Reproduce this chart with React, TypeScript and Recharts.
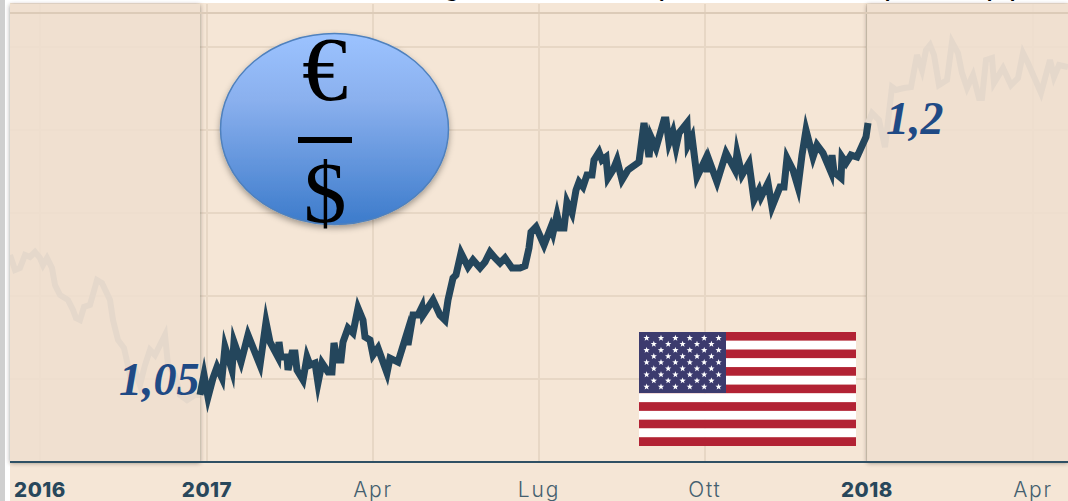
import React from "react";
import { LineChart, Line, XAxis, YAxis, CartesianGrid, ReferenceArea, ReferenceLine } from "recharts";

// Nominal trading-session index, 0 = start of 2017
const tickSessions = [-167, 0, 166, 332, 498, 660, 826];
const tickLabels = ["2016", "2017", "Apr", "Lug", "Ott", "2018", "Apr"];
const yearLabels = ["2016", "2017", "2018"];
const gridSessions = [-167, 0, 166, 332, 498, 660, 826];
const gridRates = [1.05, 1.1, 1.15, 1.2, 1.25];
const topRate = 1.2705;

const priorSessions = [-197, -192, -187, -182, -177, -172, -167, -164, -160, -155, -152, -147, -139, -134, -131, -127, -123, -117, -110, -105, -97, -94, -89, -83, -77, -72, -67, -62, -57, -52, -42, -39, -32, -27, -20, -12, -7];
const priorRates = [1.1247, 1.1157, 1.1169, 1.1247, 1.1235, 1.1265, 1.1229, 1.1187, 1.1229, 1.1169, 1.1066, 1.1006, 1.0976, 1.0916, 1.0867, 1.0855, 1.0934, 1.0946, 1.1096, 1.1078, 1.0976, 1.0855, 1.0735, 1.0687, 1.0524, 1.0554, 1.0464, 1.0584, 1.0675, 1.0644, 1.0765, 1.0584, 1.0524, 1.0404, 1.0373, 1.0404, 1.0404];

const mainSessions = [-7, -3, 1, 6, 10, 15, 18, 25, 27, 34, 41, 53, 59, 63, 71, 72, 74, 80, 81, 85, 88, 90, 96, 100, 103, 108, 111, 115, 121, 125, 127, 130, 134, 136, 141, 146, 151, 156, 158, 163, 166, 171, 180, 183, 191, 200, 201, 206, 211, 215, 216, 226, 233, 238, 241, 246, 249, 254, 261, 266, 273, 278, 283, 288, 293, 298, 305, 313, 318, 322, 324, 329, 337, 344, 346, 350, 353, 357, 360, 365, 369, 372, 376, 380, 385, 387, 392, 395, 399, 401, 406, 410, 415, 421, 432, 437, 442, 444, 449, 457, 459, 462, 466, 469, 472, 480, 481, 485, 490, 498, 500, 502, 510, 519, 528, 530, 535, 542, 547, 552, 554, 561, 565, 573, 577, 580, 586, 591, 595, 599, 606, 610, 616, 624, 625, 627, 634, 635, 639, 644, 650, 659, 661];
const mainRates = [1.0404, 1.0524, 1.0391, 1.0506, 1.0572, 1.0506, 1.0693, 1.0554, 1.0723, 1.0602, 1.0765, 1.0584, 1.0843, 1.0723, 1.0632, 1.0723, 1.0632, 1.0632, 1.0554, 1.0657, 1.0657, 1.0554, 1.0494, 1.0632, 1.0584, 1.0596, 1.0476, 1.0596, 1.0542, 1.0542, 1.0717, 1.0614, 1.0614, 1.0723, 1.0807, 1.0777, 1.0928, 1.0855, 1.0753, 1.0735, 1.0644, 1.0687, 1.0536, 1.0626, 1.0602, 1.0777, 1.0705, 1.0885, 1.0885, 1.0934, 1.0885, 1.0976, 1.0885, 1.0855, 1.0976, 1.1108, 1.1126, 1.1259, 1.1175, 1.1217, 1.1169, 1.1205, 1.1265, 1.1229, 1.1199, 1.1229, 1.1169, 1.1169, 1.1181, 1.1289, 1.1385, 1.1416, 1.1307, 1.1416, 1.1379, 1.1488, 1.1409, 1.1409, 1.1566, 1.15, 1.1638, 1.1687, 1.1657, 1.1729, 1.1729, 1.1819, 1.1867, 1.1819, 1.1837, 1.1711, 1.1759, 1.1819, 1.1699, 1.1759, 1.1807, 1.2042, 1.1837, 1.1958, 1.1891, 1.206, 1.206, 1.1922, 1.1988, 1.1897, 1.1982, 1.2042, 1.191, 1.1958, 1.1717, 1.1819, 1.1747, 1.1819, 1.1687, 1.1861, 1.1759, 1.1861, 1.1729, 1.1801, 1.1578, 1.1638, 1.1596, 1.1681, 1.1536, 1.1657, 1.1657, 1.1831, 1.1759, 1.1657, 1.1849, 1.2, 1.1837, 1.191, 1.1861, 1.1747, 1.1849, 1.1747, 1.1711, 1.1837, 1.1801, 1.1849, 1.1837, 1.1958, 1.2042];

const nextSessions = [661, 665, 672, 678, 685, 689, 697, 704, 710, 715, 719, 723, 727, 732, 740, 745, 751, 755, 760, 766, 772, 775, 779, 785, 787, 796, 804, 811, 816, 821, 834, 843, 847, 852, 861];
const nextRates = [1.2042, 1.2102, 1.206, 1.1897, 1.2259, 1.2241, 1.2253, 1.2259, 1.2452, 1.2361, 1.2482, 1.2512, 1.2452, 1.2271, 1.2301, 1.253, 1.2464, 1.2343, 1.2253, 1.2331, 1.2193, 1.2193, 1.2422, 1.2434, 1.2283, 1.2373, 1.2271, 1.2313, 1.2464, 1.2403, 1.2223, 1.2422, 1.2319, 1.2391, 1.2379];

const zip = (xs: number[], ys: number[]) => xs.map((x, i) => ({ x, y: ys[i] }));

const priorData = zip(priorSessions, priorRates);
const mainData = zip(mainSessions, mainRates);
const nextData = zip(nextSessions, nextRates);

const AxisTick = (props: any) => {
  const label = tickLabels[tickSessions.indexOf(props.payload.value)];
  const bold = yearLabels.includes(label);
  return (
    <text
      x={props.x}
      y={497}
      textAnchor="middle"
      fontFamily="Inter, sans-serif"
      fontSize={bold ? 20.5 : 21}
      fontWeight={bold ? 800 : 300}
      letterSpacing={bold ? 0.5 : 1.8}
      fill={bold ? "#28475b" : "#44606f"}
    >
      {label}
    </text>
  );
};

const Band = (props: any) => (
  <rect
    x={props.x}
    y={props.y}
    width={props.width}
    height={props.height}
    fill="#efdfcf"
    fillOpacity={0.88}
    filter="url(#bandShadow)"
  />
);

const Star = ({ cx, cy, r }: { cx: number; cy: number; r: number }) => {
  const pts: string[] = [];
  for (let i = 0; i < 10; i++) {
    const a = -Math.PI / 2 + (i * Math.PI) / 5;
    const rr = i % 2 === 0 ? r : r * 0.42;
    pts.push(`${cx + rr * Math.cos(a)},${cy + rr * Math.sin(a)}`);
  }
  return <polygon points={pts.join(" ")} fill="#ffffff" />;
};

const Flag = () => {
  const stripe = 114 / 13;
  const stripes = [];
  for (let i = 0; i < 13; i++) {
    stripes.push(
      <rect key={i} x={639} y={332 + i * stripe} width={217} height={stripe} fill={i % 2 === 0 ? "#b22234" : "#ffffff"} />
    );
  }
  const stars = [];
  for (let row = 0; row < 9; row++) {
    const odd = row % 2 === 1;
    for (let col = 0; col < (odd ? 5 : 6); col++) {
      stars.push(
        <Star key={`${row}-${col}`} cx={646.6 + (odd ? 7.2 : 0) + col * 14.4} cy={338 + row * 6.1} r={3.3} />
      );
    }
  }
  return (
    <g>
      {stripes}
      <rect x={639} y={332} width={87} height={61} fill="#3c3b6e" />
      {stars}
    </g>
  );
};

const overlayTitle: [string, number][] = [["g", 443], ["(", 653], ["p", 884], ["p", 986], ["p", 1009]];

export default function App() {
  return (
    <div style={{ position: "absolute", left: 0, top: 0, width: 1068, height: 501, background: "#ffffff", overflow: "hidden" }}>
      <div style={{ position: "absolute", left: 0, top: 0, width: 5, height: 501, background: "#cfcfcf" }} />
      <div style={{ position: "absolute", left: 10, top: 3, width: 1058, height: 498, background: "#f5e6d6" }} />
      <div style={{ position: "absolute", left: 0, top: 0 }}>
        <LineChart width={1068} height={501} margin={{ top: 4, right: 0, bottom: 0, left: 10 }}>
          <defs>
            <filter id="bandShadow" x="-5%" y="-5%" width="110%" height="110%">
              <feColorMatrix in="SourceAlpha" type="matrix" values="0 0 0 0 0 0 0 0 0 0 0 0 0 0 0 0 0 0 100 0" result="solid" />
              <feGaussianBlur in="solid" stdDeviation={2.2} result="blur" />
              <feOffset in="blur" dy={1} result="offset" />
              <feFlood floodColor="#3a3026" floodOpacity={0.5} />
              <feComposite in2="offset" operator="in" result="shadow" />
              <feComposite in="shadow" in2="solid" operator="out" result="outer" />
              <feMerge>
                <feMergeNode in="outer" />
                <feMergeNode in="SourceGraphic" />
              </feMerge>
            </filter>
          </defs>
          <CartesianGrid
            horizontalValues={gridRates}
            verticalValues={gridSessions}
            stroke="#e7d7c5"
            strokeWidth={2}
          />
          <XAxis
            type="number"
            dataKey="x"
            domain={[-197, 861]}
            ticks={tickSessions}
            tick={<AxisTick />}
            tickLine={false}
            axisLine={{ stroke: "#2f5064", strokeWidth: 2 }}
            height={39}
            interval={0}
            allowDataOverflow
          />
          <YAxis hide type="number" domain={[1.0, 1.2759]} ticks={gridRates} allowDataOverflow />
          <ReferenceLine y={topRate} stroke="#dccbb8" strokeWidth={2} />
          <ReferenceArea x1={-197} x2={-7} y1={1.0} y2={1.2759} shape={<Band />} ifOverflow="hidden" />
          <ReferenceArea x1={660} x2={861} y1={1.0} y2={1.2759} shape={<Band />} ifOverflow="hidden" />
          <Line data={priorData} dataKey="y" stroke="#e5d8cb" strokeWidth={6} dot={false} activeDot={false} isAnimationActive={false} type="linear" legendType="none" />
          <Line data={nextData} dataKey="y" stroke="#e5d8cb" strokeWidth={6} dot={false} activeDot={false} isAnimationActive={false} type="linear" legendType="none" />
          <Line data={mainData} dataKey="y" stroke="#24465c" strokeWidth={7} strokeLinejoin="miter" strokeMiterlimit={6} dot={false} activeDot={false} isAnimationActive={false} type="linear" legendType="none" />
        </LineChart>
      </div>
      <svg width={1068} height={501} style={{ position: "absolute", left: 0, top: 0, pointerEvents: "none" }}>
        <defs>
          <linearGradient id="coin" x1="0" y1="0" x2="0" y2="1">
            <stop offset="0" stopColor="#9cc3ff" />
            <stop offset="0.35" stopColor="#8ab0ee" />
            <stop offset="1" stopColor="#3c7bcb" />
          </linearGradient>
          <filter id="coinShadow" x="-10%" y="-10%" width="120%" height="125%">
            <feDropShadow dx={0} dy={3} stdDeviation={3} floodColor="#000000" floodOpacity={0.35} />
          </filter>
        </defs>
        {overlayTitle.map(([t, x], i) => (
          <text key={i} x={x} y={-6} fontFamily="Liberation Sans, sans-serif" fontSize={32} fill="#000000">{t}</text>
        ))}
        <ellipse cx={334.5} cy={129} rx={114} ry={95.5} fill="url(#coin)" stroke="#4f81bd" strokeWidth={1.5} filter="url(#coinShadow)" />
        <text x={325} y={100} textAnchor="middle" fontFamily="Liberation Serif, serif" fontSize={92} fill="#000000">€</text>
        <rect x={298} y={137} width={54} height={6} fill="#000000" />
        <text x={325} y={222} textAnchor="middle" fontFamily="Liberation Serif, serif" fontSize={86} fill="#000000">$</text>
        <text x={119} y={395} fontFamily="Liberation Serif, serif" fontStyle="italic" fontWeight={700} fontSize={46} fill="#1f4a85">1,05</text>
        <text x={886} y={134} fontFamily="Liberation Serif, serif" fontStyle="italic" fontWeight={700} fontSize={46} fill="#1f4a85">1,2</text>
        <Flag />
      </svg>
    </div>
  );
}
